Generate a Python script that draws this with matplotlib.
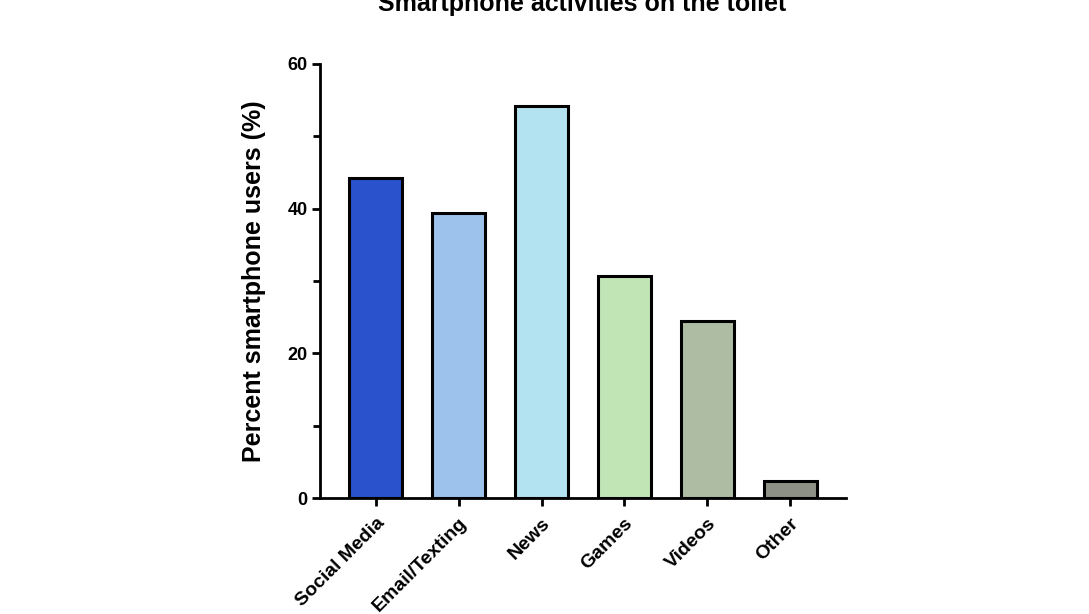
import matplotlib.pyplot as plt
from matplotlib.ticker import MultipleLocator

plt.rcParams['font.family'] = ['Liberation Sans', 'DejaVu Sans']

categories = ['Social Media', 'Email/Texting', 'News', 'Games', 'Videos', 'Other']
percent = [44.2, 39.4, 54.2, 30.7, 24.5, 2.3]
colors = ['#2a52cc', '#9dc3ec', '#b3e3f0', '#c2e5b5', '#adbca3', '#8e9186']


def main():
    fig = plt.figure(figsize=(10.89, 6.14), dpi=100)
    ax = fig.add_axes([0.2938, 0.1889, 0.4831, 0.7069])

    x = range(len(categories))
    ax.bar(x, percent, width=0.64, color=colors, edgecolor='black', linewidth=2.2, zorder=2)

    ax.set_xlim(-0.675, len(categories) - 0.325)
    ax.set_ylim(0, 60)
    ax.yaxis.set_major_locator(MultipleLocator(20))
    ax.yaxis.set_minor_locator(MultipleLocator(10))
    ax.set_xticks(list(x))
    ax.set_xticklabels(categories, rotation=45, ha='right', rotation_mode='anchor',
                       fontsize=14, fontweight='bold')
    for lab in ax.get_yticklabels():
        lab.set_fontweight('bold')
        lab.set_fontsize(13)

    for side in ['top', 'right']:
        ax.spines[side].set_visible(False)
    for side in ['left', 'bottom']:
        ax.spines[side].set_linewidth(2)
    ax.tick_params(axis='both', which='both', width=2, length=6, direction='out')
    ax.tick_params(axis='y', which='minor', length=5)
    ax.tick_params(axis='x', pad=6)
    ax.tick_params(axis='y', pad=3)

    ax.set_ylabel('Percent smartphone users (%)', fontsize=18, fontweight='bold', labelpad=15)
    fig.text(0.535, 0.982, 'Smartphone activities on the toilet', ha='center', va='baseline',
             fontsize=18, fontweight='bold')

    fig.savefig('out.png', dpi=100)


if __name__ == '__main__':
    main()
